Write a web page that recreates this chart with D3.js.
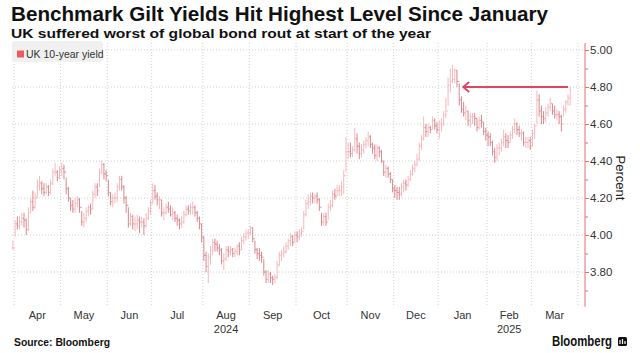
<!DOCTYPE html>
<html>
<head>
<meta charset="utf-8">
<script src="https://cdn.jsdelivr.net/npm/d3@7"></script>
<style>
  body { margin: 0; background: #fff; }
  svg { display: block; font-family: "Liberation Sans", Arial, sans-serif; }
</style>
</head>
<body>
<svg id="chart" width="640" height="353"></svg>
<script>
// trading calendar (London), used only to place the daily bars
const firstDay = '2024-03-28'
const lastCalendarDay = '2025-03-31'
const holidays = ['2024-03-29', '2024-04-01', '2024-05-06', '2024-05-27', '2024-08-26',
  '2024-12-25', '2024-12-26', '2025-01-01']

// UK 10-year gilt yield, daily (28 Mar 2024 .. 26 Mar 2025)
const closeVals = [
  3.93,
  // Apr
  4.06, 4.05, 4.07, 4.09, 4.08, 4.03, 4.12, 4.18, 4.15, 4.20, 4.27, 4.28, 4.25, 4.23, 4.26, 4.23, 4.28, 4.34, 4.34, 4.31, 4.35,
  // May
  4.36, 4.34, 4.25, 4.20, 4.16, 4.14, 4.17, 4.19, 4.15, 4.07, 4.09, 4.13, 4.15, 4.14, 4.22, 4.26, 4.24, 4.34, 4.38, 4.33, 4.32,
  // Jun
  4.23, 4.18, 4.20, 4.20, 4.26, 4.30, 4.26, 4.20, 4.16, 4.06, 4.10, 4.06, 4.06, 4.08, 4.07, 4.07, 4.05, 4.09, 4.13, 4.17,
  // Jul
  4.24, 4.21, 4.19, 4.19, 4.12, 4.12, 4.15, 4.14, 4.11, 4.12, 4.09, 4.08, 4.06, 4.07, 4.11, 4.14, 4.13, 4.15, 4.15, 4.12, 4.09, 4.06, 3.99,
  // Aug
  3.89, 3.83, 3.88, 3.92, 3.96, 3.95, 3.93, 3.92, 3.86, 3.87, 3.92, 3.91, 3.92, 3.90, 3.91, 3.94, 3.92, 3.97, 3.99, 4.01, 4.01,
  // Sep
  4.04, 3.98, 3.92, 3.90, 3.89, 3.88, 3.80, 3.76, 3.79, 3.77, 3.76, 3.77, 3.84, 3.89, 3.90, 3.91, 3.94, 3.97, 3.99, 3.96, 4.00,
  // Oct
  3.99, 4.01, 4.02, 4.11, 4.17, 4.18, 4.21, 4.20, 4.21, 4.19, 4.15, 4.07, 4.10, 4.07, 4.15, 4.16, 4.22, 4.21, 4.24, 4.24, 4.26, 4.32, 4.45,
  // Nov
  4.45, 4.44, 4.46, 4.52, 4.48, 4.44, 4.46, 4.49, 4.51, 4.53, 4.49, 4.47, 4.43, 4.47, 4.45, 4.40, 4.34, 4.36, 4.33, 4.30, 4.25,
  // Dec
  4.24, 4.23, 4.22, 4.26, 4.28, 4.27, 4.30, 4.33, 4.36, 4.38, 4.41, 4.48, 4.52, 4.58, 4.56, 4.58, 4.57, 4.62, 4.59, 4.57,
  // Jan
  4.60, 4.60, 4.65, 4.67, 4.81, 4.83, 4.84, 4.89, 4.83, 4.73, 4.68, 4.66, 4.67, 4.62, 4.64, 4.64, 4.63, 4.58, 4.62, 4.61, 4.56, 4.54,
  // Feb
  4.53, 4.50, 4.45, 4.42, 4.47, 4.47, 4.50, 4.53, 4.51, 4.50, 4.54, 4.57, 4.60, 4.57, 4.55, 4.55, 4.50, 4.50, 4.51, 4.48,
  // Mar
  4.55, 4.59, 4.73, 4.67, 4.64, 4.63, 4.66, 4.69, 4.71, 4.67, 4.65, 4.65, 4.64, 4.60, 4.68, 4.72, 4.74, 4.78
]
const highVals = [
  3.97,
  4.08, 4.10, 4.10, 4.12, 4.12, 4.09, 4.15, 4.20, 4.24, 4.23, 4.30, 4.32, 4.29, 4.28, 4.28, 4.27, 4.30, 4.36, 4.39, 4.35, 4.37,
  4.39, 4.38, 4.31, 4.26, 4.20, 4.19, 4.20, 4.21, 4.20, 4.13, 4.12, 4.15, 4.16, 4.17, 4.24, 4.28, 4.28, 4.36, 4.40, 4.39, 4.35,
  4.30, 4.23, 4.22, 4.23, 4.28, 4.32, 4.32, 4.27, 4.21, 4.15, 4.12, 4.11, 4.10, 4.11, 4.10, 4.10, 4.09, 4.12, 4.15, 4.19,
  4.28, 4.27, 4.23, 4.21, 4.19, 4.15, 4.17, 4.18, 4.16, 4.15, 4.13, 4.11, 4.09, 4.10, 4.13, 4.16, 4.16, 4.17, 4.18, 4.16, 4.13, 4.10, 4.06,
  3.99, 3.91, 3.90, 3.94, 3.98, 3.98, 3.97, 3.95, 3.93, 3.90, 3.94, 3.94, 3.94, 3.93, 3.93, 3.95, 3.96, 3.99, 4.01, 4.03, 4.03,
  4.05, 4.04, 3.97, 3.93, 3.93, 3.91, 3.87, 3.81, 3.81, 3.80, 3.78, 3.79, 3.86, 3.91, 3.92, 3.94, 3.96, 3.98, 4.01, 4.00, 4.02,
  4.02, 4.03, 4.04, 4.13, 4.19, 4.22, 4.23, 4.23, 4.22, 4.23, 4.20, 4.12, 4.12, 4.12, 4.17, 4.19, 4.24, 4.25, 4.27, 4.27, 4.29, 4.35, 4.53,
  4.50, 4.50, 4.48, 4.58, 4.55, 4.50, 4.49, 4.51, 4.53, 4.56, 4.54, 4.50, 4.49, 4.49, 4.48, 4.46, 4.40, 4.38, 4.37, 4.34, 4.30,
  4.27, 4.26, 4.26, 4.28, 4.30, 4.30, 4.32, 4.35, 4.38, 4.40, 4.44, 4.50, 4.54, 4.64, 4.60, 4.60, 4.59, 4.64, 4.63, 4.61,
  4.62, 4.63, 4.67, 4.74, 4.85, 4.90, 4.92, 4.90, 4.89, 4.82, 4.75, 4.72, 4.70, 4.67, 4.66, 4.66, 4.66, 4.63, 4.64, 4.65, 4.61, 4.58,
  4.56, 4.55, 4.51, 4.47, 4.49, 4.50, 4.52, 4.57, 4.55, 4.54, 4.56, 4.59, 4.63, 4.61, 4.59, 4.57, 4.56, 4.53, 4.53, 4.53,
  4.57, 4.60, 4.78, 4.76, 4.70, 4.67, 4.69, 4.71, 4.74, 4.71, 4.70, 4.68, 4.67, 4.65, 4.70, 4.73, 4.76, 4.80
]
const lowVals = [
  3.92,
  3.99, 4.03, 4.03, 4.05, 4.04, 4.00, 4.02, 4.12, 4.13, 4.14, 4.20, 4.24, 4.22, 4.21, 4.22, 4.21, 4.22, 4.27, 4.32, 4.29, 4.30,
  4.32, 4.30, 4.22, 4.18, 4.13, 4.12, 4.12, 4.15, 4.12, 4.05, 4.04, 4.07, 4.10, 4.11, 4.14, 4.20, 4.21, 4.26, 4.33, 4.30, 4.29,
  4.21, 4.16, 4.15, 4.17, 4.18, 4.24, 4.24, 4.17, 4.12, 4.04, 4.05, 4.03, 4.02, 4.03, 4.01, 4.04, 4.00, 4.04, 4.08, 4.11,
  4.17, 4.19, 4.16, 4.14, 4.10, 4.08, 4.11, 4.12, 4.10, 4.08, 4.07, 4.05, 4.03, 4.04, 4.06, 4.10, 4.11, 4.11, 4.11, 4.10, 4.07, 4.03, 3.96,
  3.86, 3.80, 3.74, 3.84, 3.89, 3.91, 3.91, 3.89, 3.84, 3.81, 3.86, 3.88, 3.89, 3.88, 3.88, 3.89, 3.89, 3.92, 3.95, 3.97, 3.98,
  4.00, 3.96, 3.90, 3.87, 3.86, 3.85, 3.78, 3.74, 3.74, 3.74, 3.73, 3.74, 3.76, 3.83, 3.86, 3.88, 3.90, 3.92, 3.94, 3.94, 3.96,
  3.96, 3.97, 3.99, 4.03, 4.10, 4.14, 4.16, 4.17, 4.17, 4.17, 4.13, 4.05, 4.05, 4.05, 4.08, 4.13, 4.15, 4.19, 4.21, 4.21, 4.21, 4.22, 4.34,
  4.41, 4.42, 4.42, 4.45, 4.44, 4.41, 4.42, 4.44, 4.47, 4.48, 4.47, 4.44, 4.41, 4.40, 4.42, 4.39, 4.32, 4.31, 4.31, 4.28, 4.23,
  4.20, 4.19, 4.19, 4.21, 4.23, 4.24, 4.26, 4.29, 4.32, 4.34, 4.37, 4.40, 4.46, 4.51, 4.53, 4.53, 4.55, 4.57, 4.57, 4.55,
  4.52, 4.56, 4.59, 4.63, 4.70, 4.77, 4.82, 4.82, 4.80, 4.70, 4.66, 4.64, 4.62, 4.59, 4.58, 4.60, 4.59, 4.56, 4.57, 4.58, 4.54, 4.51,
  4.48, 4.48, 4.43, 4.39, 4.40, 4.43, 4.45, 4.48, 4.47, 4.47, 4.50, 4.52, 4.55, 4.54, 4.53, 4.51, 4.48, 4.47, 4.47, 4.46,
  4.48, 4.52, 4.60, 4.64, 4.60, 4.60, 4.61, 4.64, 4.67, 4.65, 4.63, 4.62, 4.60, 4.56, 4.64, 4.66, 4.70, 4.70
]

const yMajorTicks = [3.8, 4.0, 4.2, 4.4, 4.6, 4.8, 5.0]
const yMinorTicks = [3.7, 3.9, 4.1, 4.3, 4.5, 4.7, 4.9]
const yearLabels = [{ month: '2024-08', text: '2024' }, { month: '2025-02', text: '2025' }]
// arrow: from the latest close back to the January high, at 4.80%
const arrowLevel = 4.80
const arrowFrom = '2025-03-25'
const arrowTo = '2025-01-17'

const svg = d3.select('#chart')
const fmtDay = d3.utcFormat('%Y-%m-%d')
const fmtMonth = d3.utcFormat('%Y-%m')

const days = d3.utcDay.range(new Date(firstDay), d3.utcDay.offset(new Date(lastCalendarDay), 1))
  .filter(d => d.getUTCDay() !== 0 && d.getUTCDay() !== 6 && !holidays.includes(fmtDay(d)))

const bars = closeVals.map((c, i) => ({
  i,
  date: days[i],
  open: i === 0 ? c : closeVals[i - 1],
  close: c,
  high: highVals[i],
  low: lowVals[i]
}))

// month boundaries in trading-day units
const bounds = []
days.forEach((d, i) => {
  if (i > 0 && fmtMonth(d) !== fmtMonth(days[i - 1])) bounds.push({ pos: i - 0.5, date: d })
})
bounds.push({ pos: days.length - 0.5, date: null })

const x = d3.scaleLinear().domain([0.5, days.length - 0.5]).range([14, 578])
const y = d3.scaleLinear().domain([3.8, 5.0]).range([272, 50])

const plotLeft = 12
const axisX = 585
const plotTop = y(5.038)
const plotBottom = y(3.612)

// title
svg.append('text')
  .attr('x', 11).attr('y', 21)
  .attr('font-size', 20.5).attr('font-weight', 'bold').attr('fill', '#111')
  .attr('textLength', 537).attr('lengthAdjust', 'spacingAndGlyphs')
  .text('Benchmark Gilt Yields Hit Highest Level Since January')

svg.append('text')
  .attr('x', 11).attr('y', 38)
  .attr('font-size', 13.5).attr('font-weight', 'bold').attr('fill', '#111')
  .attr('textLength', 420).attr('lengthAdjust', 'spacingAndGlyphs')
  .text('UK suffered worst of global bond rout at start of the year')

// grid
const grid = svg.append('g')
grid.selectAll('.hgrid')
  .data(yMajorTicks)
  .enter().append('line')
  .attr('class', 'hgrid')
  .attr('x1', plotLeft).attr('x2', axisX)
  .attr('y1', d => y(d)).attr('y2', d => y(d))
  .attr('stroke', '#cfcfcf').attr('stroke-dasharray', '1,2')

grid.selectAll('.vgrid')
  .data(bounds)
  .enter().append('line')
  .attr('class', 'vgrid')
  .attr('x1', d => x(d.pos)).attr('x2', d => x(d.pos))
  .attr('y1', plotTop).attr('y2', plotBottom)
  .attr('stroke', '#cfcfcf').attr('stroke-dasharray', '1,2')

// legend
const legend = svg.append('g')
legend.append('rect')
  .attr('x', 12).attr('y', 41).attr('width', 91).attr('height', 21)
  .attr('rx', 3).attr('fill', '#f0f0f0')
legend.append('rect')
  .attr('x', 17).attr('y', 50.5).attr('width', 7).attr('height', 7)
  .attr('fill', '#ee5a63')
legend.append('text')
  .attr('x', 26).attr('y', 57.5)
  .attr('font-size', 10.5).attr('fill', '#333')
  .text('UK 10-year yield')

// OHLC bars
svg.append('g')
  .selectAll('path')
  .data(bars)
  .enter().append('path')
  .attr('d', d => {
    const cx = x(d.i)
    return `M${cx - 1.1},${y(d.open)}H${cx}M${cx},${y(d.high)}V${y(d.low)}M${cx},${y(d.close)}H${cx + 1.1}`
  })
  .attr('fill', 'none')
  .attr('stroke', d => d.close >= d.open ? '#f5b9bd' : '#d9878d')
  .attr('stroke-width', 1)

// arrow annotation
const ay = y(arrowLevel)
const ax1 = x(days.findIndex(d => fmtDay(d) === arrowFrom))
const ax2 = x(days.findIndex(d => fmtDay(d) === arrowTo)) - 0.5
const arrow = svg.append('g').attr('stroke', '#e2465f').attr('stroke-width', 1.8).attr('fill', 'none')
arrow.append('line').attr('x1', ax1).attr('x2', ax2).attr('y1', ay).attr('y2', ay)
arrow.append('path')
  .attr('d', `M${ax2 + 6},${ay - 5}L${ax2},${ay}L${ax2 + 6},${ay + 5}`)

// right axis
const axisColor = '#e76d77'
const yAxis = svg.append('g').attr('transform', `translate(${axisX},0)`)
yAxis.append('line')
  .attr('x1', 0).attr('x2', 0).attr('y1', plotTop).attr('y2', plotBottom)
  .attr('stroke', axisColor)
yAxis.call(g => {
  const ax = d3.axisRight(y).tickValues(yMajorTicks).tickSize(4).tickPadding(1).tickFormat(d3.format('.2f'))
  g.append('g').call(ax)
})
yAxis.append('g').call(d3.axisRight(y).tickValues(yMinorTicks).tickSize(3).tickFormat(''))
yAxis.selectAll('.domain').remove()
yAxis.selectAll('.tick line').attr('stroke', axisColor)
yAxis.selectAll('.tick text')
  .attr('fill', '#333').attr('font-size', 11.5)
  .attr('font-family', '"Liberation Sans", Arial, sans-serif')

svg.append('text')
  .attr('transform', `translate(616,178) rotate(90)`)
  .attr('text-anchor', 'middle')
  .attr('font-size', 13).attr('fill', '#222')
  .text('Percent')

// month labels
const monthData = bounds.slice(0, -1).map((b, k) => ({
  mid: (x(b.pos) + x(bounds[k + 1].pos)) / 2,
  label: d3.utcFormat('%b')(b.date),
  key: fmtMonth(b.date)
}))
svg.append('g')
  .selectAll('text')
  .data(monthData)
  .enter().append('text')
  .attr('x', d => d.mid).attr('y', 319)
  .attr('text-anchor', 'middle')
  .attr('font-size', 11).attr('fill', '#333')
  .text(d => d.label)

svg.append('g')
  .selectAll('text')
  .data(yearLabels)
  .enter().append('text')
  .attr('x', d => monthData.find(m => m.key === d.month).mid).attr('y', 333)
  .attr('text-anchor', 'middle')
  .attr('font-size', 11).attr('fill', '#333')
  .text(d => d.text)

// footer
svg.append('text')
  .attr('x', 14).attr('y', 346)
  .attr('font-size', 10).attr('font-weight', 'bold').attr('fill', '#111')
  .attr('textLength', 96).attr('lengthAdjust', 'spacingAndGlyphs')
  .text('Source: Bloomberg')

svg.append('text')
  .attr('x', 552).attr('y', 346)
  .attr('font-size', 14).attr('font-weight', 'bold').attr('fill', '#111')
  .attr('textLength', 60).attr('lengthAdjust', 'spacingAndGlyphs')
  .text('Bloomberg')

const logo = svg.append('g').attr('transform', 'translate(618,337)')
logo.append('rect').attr('width', 9).attr('height', 9).attr('rx', 1.5).attr('fill', '#111')
logo.selectAll('line')
  .data([[2, 3], [4.5, 2], [7, 4]])
  .enter().append('line')
  .attr('x1', d => d[0]).attr('x2', d => d[0])
  .attr('y1', d => d[1]).attr('y2', 7)
  .attr('stroke', '#fff').attr('stroke-width', 1.2)
</script>
</body>
</html>
